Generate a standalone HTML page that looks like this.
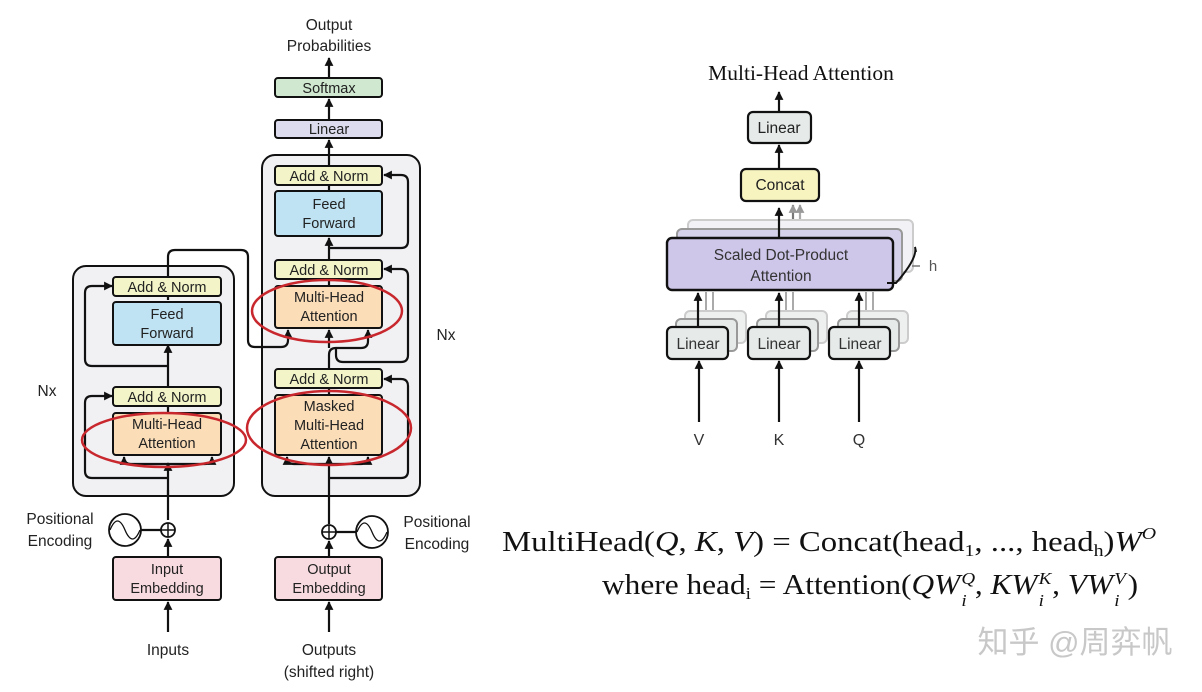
<!DOCTYPE html>
<html><head><meta charset="utf-8"><style>
html,body{margin:0;padding:0;background:#fff;}
svg{display:block;}
text{font-family:"Liberation Sans",sans-serif;}
.s{font-family:"Liberation Serif",serif;}
.f{position:absolute;font-family:"Liberation Serif",serif;font-size:28px;color:#111;white-space:nowrap;line-height:1;transform-origin:0 0;}
.f i{font-style:italic;}
.f sub{font-size:17px;vertical-align:-5px;line-height:0;}
.f sup{font-size:17px;vertical-align:12px;line-height:0;}
.ss{display:inline-block;position:relative;width:13px;height:10px;}
.ss b{position:absolute;left:1px;font-weight:normal;font-style:italic;font-size:17px;line-height:1;}
</style></head><body>
<div style="position:relative;width:1202px;height:692px;overflow:hidden;">
<svg width="1202" height="692" viewBox="0 0 1202 692" xmlns="http://www.w3.org/2000/svg">
<defs>
<marker id="a" viewBox="0 0 10 10" refX="9" refY="5" markerWidth="4" markerHeight="4" orient="auto"><path d="M0,0L10,5L0,10z" fill="#111"/></marker>
<marker id="g" viewBox="0 0 10 10" refX="9" refY="5" markerWidth="4" markerHeight="4" orient="auto"><path d="M0,0L10,5L0,10z" fill="#999"/></marker>
</defs>
<g font-size="14.5" fill="#222" text-anchor="middle">
<rect x="73" y="266" width="161" height="230" rx="13" fill="#f1f1f4" stroke="#111" stroke-width="2"/>
<rect x="262" y="155" width="158" height="341" rx="13" fill="#f1f1f4" stroke="#111" stroke-width="2"/>

<g fill="none" stroke="#111" stroke-width="2.2">
<path d="M168,520 V490" />
<path d="M168,496 V463" marker-end="url(#a)"/>
<path d="M168,406 V413"/>
<path d="M168,387 V345" marker-end="url(#a)"/>
<path d="M168,300 V296"/>
<path d="M168,478 H92 Q85,478 85,471 V403 Q85,396 92,396 H112" marker-end="url(#a)"/>
<path d="M168,464 H131 Q124,464 124,457" marker-end="url(#a)"/>
<path d="M168,464 H205 Q212,464 212,457" marker-end="url(#a)"/>
<path d="M168,366 H92 Q85,366 85,359 V293 Q85,286 92,286 H112" marker-end="url(#a)"/>
<path d="M168,277 V257 Q168,250 175,250 H241 Q248,250 248,257 V340 Q248,347 255,347 H281 Q288,347 288,340 V330" marker-end="url(#a)"/>
<path d="M329,524 V496"/>
<path d="M329,496 V457" marker-end="url(#a)"/>
<path d="M329,478 H401 Q408,478 408,471 V386 Q408,379 401,379 H384" marker-end="url(#a)"/>
<path d="M329,464 H294 Q287,464 287,457" marker-end="url(#a)"/>
<path d="M329,464 H361 Q368,464 368,457" marker-end="url(#a)"/>
<path d="M329,395 V388"/>
<path d="M329,369 V355 Q329,348 336,348 H361 Q368,348 368,341 V330" marker-end="url(#a)"/>
<path d="M329,348 V330" marker-end="url(#a)"/>
<path d="M336,348 V355 Q336,362 343,362 H401 Q408,362 408,355 V276 Q408,269 401,269 H384" marker-end="url(#a)"/>
<path d="M329,286 V279"/>
<path d="M329,260 V238" marker-end="url(#a)"/>
<path d="M329,248 H401 Q408,248 408,241 V182 Q408,175 401,175 H384" marker-end="url(#a)"/>
<path d="M329,191 V185"/>
<path d="M329,166 V140" marker-end="url(#a)"/>
<path d="M329,120 V99" marker-end="url(#a)"/>
<path d="M329,78 V58" marker-end="url(#a)"/>
<path d="M168,632 V602" marker-end="url(#a)"/>
<path d="M168,557 V539" marker-end="url(#a)"/>
<path d="M329,632 V602" marker-end="url(#a)"/>
<path d="M329,557 V541" marker-end="url(#a)"/>
<path d="M140,530 H161"/>
<path d="M336,532 H357"/>
</g>

<rect x="113" y="277" width="108" height="19" rx="3" fill="#f3f5c8" stroke="#111" stroke-width="2"/>
<text x="167" y="292">Add &amp; Norm</text>
<rect x="113" y="302" width="108" height="43" rx="3" fill="#bfe3f3" stroke="#111" stroke-width="2"/>
<text x="167" y="319">Feed</text><text x="167" y="338">Forward</text>
<rect x="113" y="387" width="108" height="19" rx="3" fill="#f3f5c8" stroke="#111" stroke-width="2"/>
<text x="167" y="402">Add &amp; Norm</text>
<rect x="113" y="413" width="108" height="42" rx="3" fill="#fbddb8" stroke="#111" stroke-width="2"/>
<text x="167" y="429">Multi-Head</text><text x="167" y="448">Attention</text>
<rect x="275" y="166" width="107" height="19" rx="3" fill="#f3f5c8" stroke="#111" stroke-width="2"/>
<text x="329" y="181">Add &amp; Norm</text>
<rect x="275" y="191" width="107" height="45" rx="3" fill="#bfe3f3" stroke="#111" stroke-width="2"/>
<text x="329" y="209">Feed</text><text x="329" y="228">Forward</text>
<rect x="275" y="260" width="107" height="19" rx="3" fill="#f3f5c8" stroke="#111" stroke-width="2"/>
<text x="329" y="275">Add &amp; Norm</text>
<rect x="275" y="286" width="107" height="42" rx="3" fill="#fbddb8" stroke="#111" stroke-width="2"/>
<text x="329" y="302">Multi-Head</text><text x="329" y="321">Attention</text>
<rect x="275" y="369" width="107" height="19" rx="3" fill="#f3f5c8" stroke="#111" stroke-width="2"/>
<text x="329" y="384">Add &amp; Norm</text>
<rect x="275" y="395" width="107" height="60" rx="3" fill="#fbddb8" stroke="#111" stroke-width="2"/>
<text x="329" y="411">Masked</text><text x="329" y="430">Multi-Head</text><text x="329" y="449">Attention</text>
<rect x="275" y="120" width="107" height="18" rx="3" fill="#dcdcee" stroke="#111" stroke-width="2"/>
<text x="329" y="134">Linear</text>
<rect x="275" y="78" width="107" height="19" rx="3" fill="#cfe8cf" stroke="#111" stroke-width="2"/>
<text x="329" y="93">Softmax</text>
<text x="329" y="30" font-size="15.5">Output</text><text x="329" y="51" font-size="15.5">Probabilities</text>
<rect x="113" y="557" width="108" height="43" rx="3" fill="#f8dbe0" stroke="#111" stroke-width="2"/>
<text x="167" y="574">Input</text><text x="167" y="593">Embedding</text>
<rect x="275" y="557" width="107" height="43" rx="3" fill="#f8dbe0" stroke="#111" stroke-width="2"/>
<text x="329" y="574">Output</text><text x="329" y="593">Embedding</text>
<circle cx="168" cy="530" r="7" fill="#fff" stroke="#111" stroke-width="1.8"/>
<path d="M161,530H175M168,523V537" stroke="#111" stroke-width="1.5"/>
<circle cx="329" cy="532" r="7" fill="#fff" stroke="#111" stroke-width="1.8"/>
<path d="M322,532H336M329,525V539" stroke="#111" stroke-width="1.5"/>
<circle cx="125" cy="530" r="16" fill="#fff" stroke="#111" stroke-width="1.8"/>
<path d="M110,530 C115,518 120,518 125,530 C130,542 135,542 140,530" fill="none" stroke="#111" stroke-width="1.3"/>
<circle cx="372" cy="532" r="16" fill="#fff" stroke="#111" stroke-width="1.8"/>
<path d="M357,532 C362,520 367,520 372,532 C377,544 382,544 387,532" fill="none" stroke="#111" stroke-width="1.3"/>
<text x="60" y="524" font-size="15.5">Positional</text><text x="60" y="546" font-size="15.5">Encoding</text>
<text x="437" y="527" font-size="15.5">Positional</text><text x="437" y="549" font-size="15.5">Encoding</text>
<text x="168" y="655" font-size="15.5">Inputs</text>
<text x="329" y="655" font-size="15.5">Outputs</text><text x="329" y="677" font-size="15.5">(shifted right)</text>
<text x="47" y="396" font-size="15.5">Nx</text>
<text x="446" y="340" font-size="15.5">Nx</text>

<g fill="none" stroke="#c8282d" stroke-width="2.5">
<ellipse cx="164" cy="440" rx="82" ry="27"/>
<ellipse cx="327" cy="311" rx="75" ry="31"/>
<ellipse cx="329" cy="428" rx="82" ry="37"/>
</g>

<text class="s" x="801" y="80" font-size="21.5" fill="#111">Multi-Head Attention</text>
<g fill="none" stroke-width="2.2">
<path d="M779,112 V92" stroke="#111" marker-end="url(#a)"/>
<path d="M779,169 V145" stroke="#111" marker-end="url(#a)"/>
<path d="M793,230 V205" stroke="#777" marker-end="url(#g)"/>
<path d="M800,224 V205" stroke="#aaa" marker-end="url(#g)"/>
</g>
<rect x="748" y="112" width="63" height="31" rx="5" fill="#e6ebea" stroke="#111" stroke-width="2.2"/>
<text x="779" y="133" font-size="15.5">Linear</text>
<rect x="741" y="169" width="78" height="32" rx="5" fill="#f7f4c0" stroke="#111" stroke-width="2.2"/>
<text x="780" y="190" font-size="15.5">Concat</text>
<rect x="688" y="220" width="225" height="52" rx="5" fill="#f1f1f6" stroke="#ccc" stroke-width="2"/>
<rect x="677" y="229" width="225" height="52" rx="5" fill="#d6d1ea" stroke="#999" stroke-width="2"/>
<path d="M779,238 V208" stroke="#111" stroke-width="2.2" marker-end="url(#a)"/>
<rect x="667" y="238" width="226" height="52" rx="5" fill="#cfc7ea" stroke="#111" stroke-width="2.4"/>
<text x="781" y="260" font-size="15.5" fill="#333">Scaled Dot-Product</text>
<text x="781" y="281" font-size="15.5" fill="#333">Attention</text>
<path d="M887,283 L896,283 Q918,258 915,247 M915,247 L916,252" fill="none" stroke="#111" stroke-width="2"/>
<path d="M912,266 H920" stroke="#777" stroke-width="1.5"/>
<text x="933" y="271" font-size="15" fill="#555">h</text>
<g stroke-width="2">
<path d="M706,320 V292 M713,320 V292" stroke="#aaa"/>
<path d="M786,320 V292 M793,320 V292" stroke="#aaa"/>
<path d="M866,320 V292 M873,320 V292" stroke="#aaa"/>
</g>
<g fill="#eef0ef" stroke="#ccc" stroke-width="2">
<rect x="685" y="311" width="61" height="32" rx="5"/><rect x="766" y="311" width="61" height="32" rx="5"/><rect x="847" y="311" width="61" height="32" rx="5"/>
</g>
<g fill="#e6ebea" stroke="#999" stroke-width="2">
<rect x="676" y="319" width="61" height="32" rx="5"/><rect x="757" y="319" width="61" height="32" rx="5"/><rect x="838" y="319" width="61" height="32" rx="5"/>
</g>
<g stroke="#111" stroke-width="2.2" fill="none">
<path d="M698,327 V293" marker-end="url(#a)"/><path d="M779,327 V293" marker-end="url(#a)"/><path d="M859,327 V293" marker-end="url(#a)"/>
<path d="M699,422 V361" marker-end="url(#a)"/><path d="M779,422 V361" marker-end="url(#a)"/><path d="M859,422 V361" marker-end="url(#a)"/>
</g>
<g fill="#e6ebea" stroke="#111" stroke-width="2.2">
<rect x="667" y="327" width="61" height="32" rx="5"/><rect x="748" y="327" width="62" height="32" rx="5"/><rect x="829" y="327" width="61" height="32" rx="5"/>
</g>
<text x="698" y="349" font-size="15.5" fill="#333">Linear</text>
<text x="779" y="349" font-size="15.5" fill="#333">Linear</text>
<text x="860" y="349" font-size="15.5" fill="#333">Linear</text>
<text x="699" y="445" font-size="16" fill="#333">V</text>
<text x="779" y="445" font-size="16" fill="#333">K</text>
<text x="859" y="445" font-size="16" fill="#333">Q</text>
</g>
<text x="1075" y="653" font-size="31" fill="#c8c8c8" text-anchor="middle" style="font-family:'Liberation Sans','Noto Sans CJK SC',sans-serif">知乎 @周弈帆</text>
</svg>
<div class="f" style="left:502px;top:529px;transform:scaleX(1.17);">MultiHead(<i>Q</i>, <i>K</i>, <i>V</i>) = Concat(head<sub>1</sub>, ..., head<sub>h</sub>)<i>W</i><sup><i>O</i></sup></div>
<div class="f" style="left:602px;top:572px;transform:scaleX(1.12);">where head<sub>i</sub> = Attention(<i>QW</i><span class="ss"><b style="top:-14px">Q</b><b style="top:8px">i</b></span>, <i>KW</i><span class="ss"><b style="top:-14px">K</b><b style="top:8px">i</b></span>, <i>VW</i><span class="ss"><b style="top:-14px">V</b><b style="top:8px">i</b></span>)</div>
</div>
</body></html>
